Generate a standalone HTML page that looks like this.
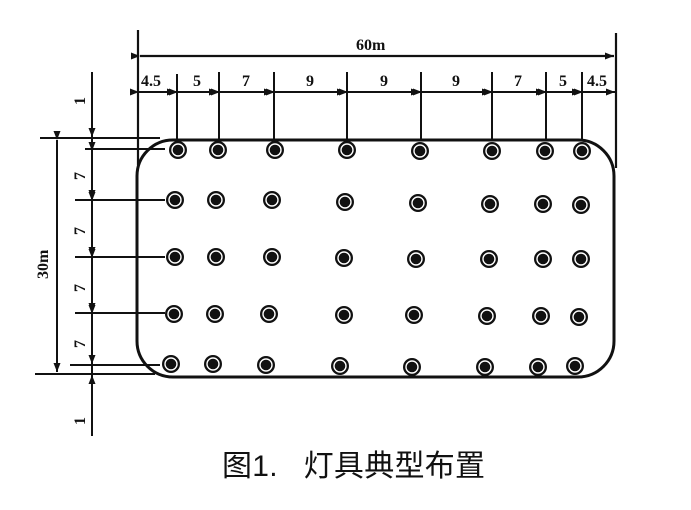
<!DOCTYPE html>
<html><head><meta charset="utf-8"><style>
body{margin:0;background:#fff;width:691px;height:505px;overflow:hidden}
svg text{font-family:"Liberation Serif",serif;fill:#111}
</style></head><body>
<svg width="691" height="505" viewBox="0 0 691 505">
<defs>
<marker id="a" markerWidth="9" markerHeight="7" refX="9" refY="3.5" orient="auto" markerUnits="userSpaceOnUse"><path d="M0,0 L9,3.5 L0,7z" fill="#111"/></marker>
<g id="d"><circle r="9" fill="#111"/><circle r="6" fill="none" stroke="#fff" stroke-width="1.4"/></g>
</defs>
<g stroke="#111" stroke-width="2.2" fill="none">
<rect x="137" y="140" width="477" height="237" rx="36" stroke-width="3"/>
<line x1="138" y1="30" x2="138" y2="165"/>
<line x1="616" y1="33" x2="616" y2="168"/>
<line x1="140" y1="56" x2="614" y2="56" marker-start="url(#a)" marker-end="url(#a)"/>
<g stroke-width="2">
<line x1="177" y1="74" x2="177" y2="140"/><line x1="219" y1="72" x2="219" y2="140"/>
<line x1="274" y1="72" x2="274" y2="140"/><line x1="347" y1="72" x2="347" y2="140"/>
<line x1="421" y1="72" x2="421" y2="140"/><line x1="492" y1="72" x2="492" y2="140"/>
<line x1="546" y1="72" x2="546" y2="140"/><line x1="582" y1="72" x2="582" y2="140"/>
<line x1="139" y1="92" x2="176" y2="92" marker-start="url(#a)" marker-end="url(#a)"/>
<line x1="178" y1="92" x2="218" y2="92" marker-start="url(#a)" marker-end="url(#a)"/>
<line x1="220" y1="92" x2="273" y2="92" marker-start="url(#a)" marker-end="url(#a)"/>
<line x1="275" y1="92" x2="346" y2="92" marker-start="url(#a)" marker-end="url(#a)"/>
<line x1="348" y1="92" x2="420" y2="92" marker-start="url(#a)" marker-end="url(#a)"/>
<line x1="422" y1="92" x2="491" y2="92" marker-start="url(#a)" marker-end="url(#a)"/>
<line x1="493" y1="92" x2="545" y2="92" marker-start="url(#a)" marker-end="url(#a)"/>
<line x1="547" y1="92" x2="581" y2="92" marker-start="url(#a)" marker-end="url(#a)"/>
<line x1="583" y1="92" x2="615" y2="92" marker-start="url(#a)" marker-end="url(#a)"/>
<line x1="40" y1="138" x2="160" y2="138"/>
<line x1="35" y1="374" x2="155" y2="374"/>
<line x1="85" y1="149" x2="165" y2="149"/><line x1="75" y1="200" x2="165" y2="200"/>
<line x1="75" y1="257" x2="165" y2="257"/><line x1="75" y1="313" x2="165" y2="313"/>
<line x1="70" y1="365" x2="160" y2="365"/>
<line x1="92" y1="72" x2="92" y2="137" marker-end="url(#a)"/>
<line x1="92" y1="436" x2="92" y2="375" marker-end="url(#a)"/>
<line x1="92" y1="137" x2="92" y2="375"/>
<line x1="92" y1="151" x2="92" y2="199" marker-start="url(#a)" marker-end="url(#a)"/>
<line x1="92" y1="201" x2="92" y2="256" marker-start="url(#a)" marker-end="url(#a)"/>
<line x1="92" y1="258" x2="92" y2="312" marker-start="url(#a)" marker-end="url(#a)"/>
<line x1="92" y1="314" x2="92" y2="364" marker-start="url(#a)" marker-end="url(#a)"/>
<line x1="57" y1="140" x2="57" y2="372" marker-start="url(#a)" marker-end="url(#a)"/>
</g>
</g>
<g font-size="16" font-weight="bold">
<text x="356" y="50">60m</text>
<text x="141" y="86">4.5</text><text x="193" y="86">5</text><text x="242" y="86">7</text>
<text x="306" y="86">9</text><text x="380" y="86">9</text><text x="452" y="86">9</text>
<text x="514" y="86">7</text><text x="559" y="86">5</text><text x="587" y="86">4.5</text>
<g transform="rotate(-90)">
<text x="-105" y="85">1</text><text x="-180" y="85">7</text><text x="-235" y="85">7</text>
<text x="-292" y="85">7</text><text x="-348" y="85">7</text><text x="-425" y="85">1</text>
<text x="-279" y="48">30m</text>
</g>
</g>
<g>
<use href="#d" x="178" y="150"/><use href="#d" x="218" y="150"/><use href="#d" x="275" y="150"/><use href="#d" x="347" y="150"/><use href="#d" x="420" y="151"/><use href="#d" x="492" y="151"/><use href="#d" x="545" y="151"/><use href="#d" x="582" y="151"/>
<use href="#d" x="175" y="200"/><use href="#d" x="216" y="200"/><use href="#d" x="272" y="200"/><use href="#d" x="345" y="202"/><use href="#d" x="418" y="203"/><use href="#d" x="490" y="204"/><use href="#d" x="543" y="204"/><use href="#d" x="581" y="205"/>
<use href="#d" x="175" y="257"/><use href="#d" x="216" y="257"/><use href="#d" x="272" y="257"/><use href="#d" x="344" y="258"/><use href="#d" x="416" y="259"/><use href="#d" x="489" y="259"/><use href="#d" x="543" y="259"/><use href="#d" x="581" y="259"/>
<use href="#d" x="174" y="314"/><use href="#d" x="215" y="314"/><use href="#d" x="269" y="314"/><use href="#d" x="344" y="315"/><use href="#d" x="414" y="315"/><use href="#d" x="487" y="316"/><use href="#d" x="541" y="316"/><use href="#d" x="579" y="317"/>
<use href="#d" x="171" y="364"/><use href="#d" x="213" y="364"/><use href="#d" x="266" y="365"/><use href="#d" x="340" y="366"/><use href="#d" x="412" y="367"/><use href="#d" x="485" y="367"/><use href="#d" x="538" y="367"/><use href="#d" x="575" y="366"/>
</g>
<text x="222" y="476" font-size="30" textLength="263" style="font-family:'Liberation Sans','Noto Sans CJK SC',sans-serif">图1.&#160;&#160;&#160;灯具典型布置</text>
</svg>
</body></html>
